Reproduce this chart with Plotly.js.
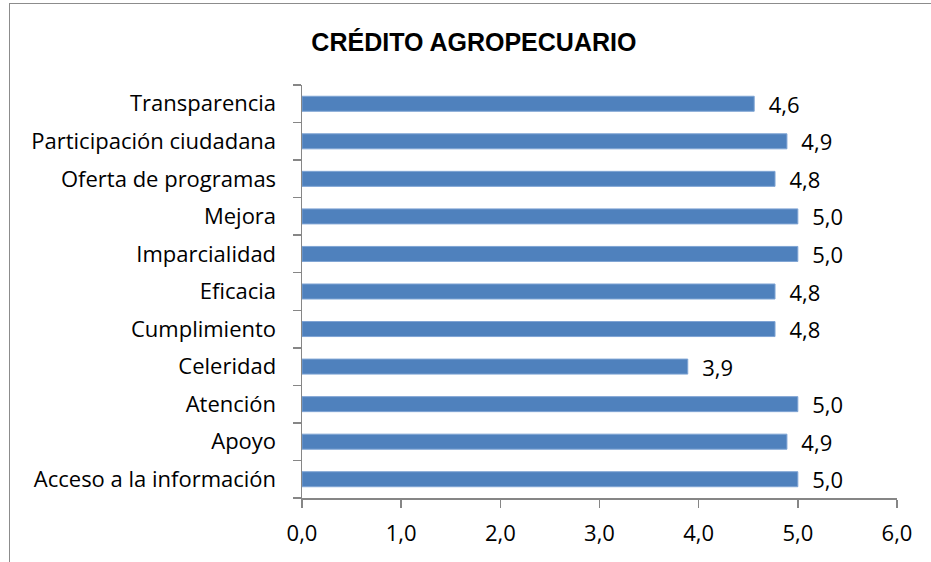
<!DOCTYPE html>
<html>
<head>
<meta charset="utf-8">
<script src="https://cdn.plot.ly/plotly-3.0.1.min.js"></script>
<style>
html,body{margin:0;padding:0;background:#fff;overflow:hidden;}
#frame{position:absolute;left:9px;top:3px;width:960px;height:620px;border:1.5px solid #8c8c8c;box-sizing:border-box;pointer-events:none;z-index:5;}
#chart{position:absolute;left:0;top:0;width:931px;height:562px;}
</style>
</head>
<body>
<div id="chart"></div>
<div id="frame"></div>
<script>
const categories = ["Acceso a la información","Apoyo","Atención","Celeridad","Cumplimiento","Eficacia","Imparcialidad","Mejora","Oferta de programas","Participación ciudadana","Transparencia"];
const values = [5.0, 4.89, 5.0, 3.89, 4.77, 4.77, 5.0, 5.0, 4.77, 4.89, 4.56];
const tickVals = [0,1,2,3,4,5,6];
const tickText = ["0,0","1,0","2,0","3,0","4,0","5,0","6,0"];
const chartTitle = "CRÉDITO AGROPECUARIO";

const labels = values.map(v => "  " + v.toFixed(1).replace(".", ","));
const FONT = "'Open Sans', 'Noto Sans', sans-serif";

const trace = {
  type: "bar",
  orientation: "h",
  y: categories,
  x: values,
  text: labels,
  textposition: "outside",
  constraintext: "none",
  cliponaxis: false,
  textfont: {family: FONT, size: 22, color: "#000"},
  marker: {color: "#4F81BD", line: {color: "#7FA4D4", width: 1}},
  hoverinfo: "none"
};

const layout = {
  width: 931, height: 562,
  margin: {l: 302, r: 34, t: 85, b: 64},
  paper_bgcolor: "#fff", plot_bgcolor: "#fff",
  bargap: 0.6,
  showlegend: false,
  title: {text: "<b>" + chartTitle + "</b>", x: 0.509, xanchor: "center", y: 0.925, yanchor: "middle",
          font: {family: "'Liberation Sans', Arial, sans-serif", size: 25, color: "#000"}},
  xaxis: {
    range: [0, 6], tickvals: tickVals, ticktext: tickText,
    showgrid: false, zeroline: false,
    showline: true, linecolor: "#868686", linewidth: 1.5,
    ticks: "outside", ticklen: 8, tickcolor: "#868686", tickwidth: 1.5,
    ticklabelstandoff: 7,
    tickfont: {family: FONT, size: 22, color: "#000"},
    fixedrange: true
  },
  yaxis: {
    type: "category", categoryorder: "array", categoryarray: categories,
    range: [-0.5, 10.5],
    showgrid: false, zeroline: false,
    showline: true, linecolor: "#868686", linewidth: 1.5,
    ticks: "outside", ticklen: 8, tickcolor: "#868686", tickwidth: 1.5,
    tickson: "boundaries",
    ticklabelstandoff: 20,
    tickfont: {family: FONT, size: 22, color: "#000"},
    fixedrange: true
  }
};

Plotly.newPlot("chart", [trace], layout, {displayModeBar: false, staticPlot: true});
</script>
</body>
</html>
